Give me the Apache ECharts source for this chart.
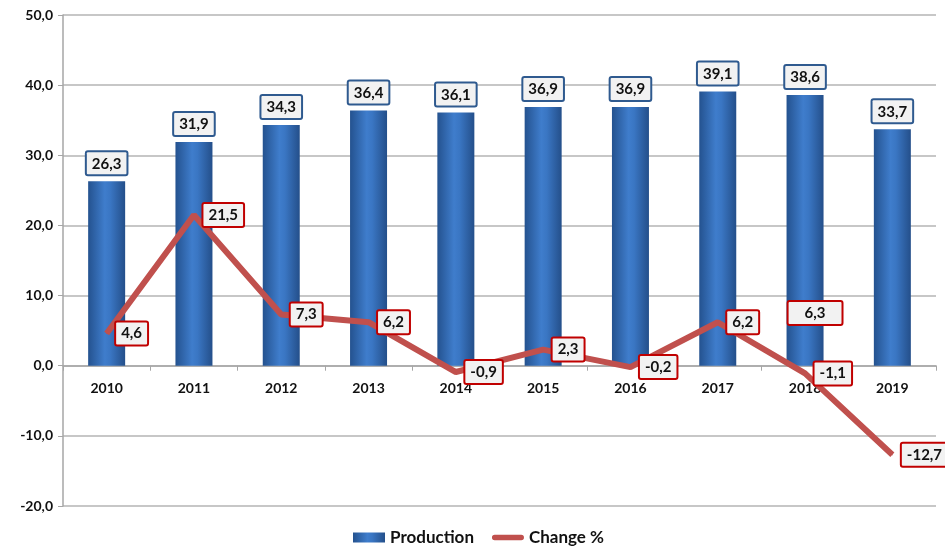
<!DOCTYPE html>
<html>
<head>
<meta charset="utf-8">
<script src="https://cdn.jsdelivr.net/npm/echarts@6/dist/echarts.min.js"></script>
<style>
  html, body { margin: 0; padding: 0; background: #fff; }
  #chart { width: 945px; height: 554px; }
</style>
</head>
<body>
<div id="chart"></div>
<script>
const years = ['2010', '2011', '2012', '2013', '2014', '2015', '2016', '2017', '2018', '2019']
const production = [26.3, 31.9, 34.3, 36.4, 36.1, 36.9, 36.9, 39.1, 38.6, 33.7]
const changePct = [4.6, 21.5, 7.3, 6.2, -0.9, 2.3, -0.2, 6.2, -1.1, -12.7]
// stray label floating above the 2018 point in the original
const strayLabel = { year: '2018', value: 7.5, text: '6,3' }

const fmt = (v) => v.toFixed(1).replace('.', ',')
const font = 'Lato, "Open Sans", sans-serif'

const boxLabel = (border) => ({
  fontSize: 15,
  fontWeight: 'bold',
  color: '#111',
  backgroundColor: '#f2f2f2',
  borderColor: border,
  borderWidth: 2,
  borderRadius: 1,
  padding: [4, 5, 3, 5],
  fontFamily: font
})

const chart = echarts.init(document.getElementById('chart'))

chart.setOption({
  animation: false,
  textStyle: { fontFamily: font },
  grid: { left: 63, right: 9, top: 15, bottom: 48 },
  legend: {
    bottom: 3,
    left: 348,
    itemGap: 18,
    itemWidth: 32,
    itemHeight: 10,
    textStyle: { fontSize: 17, fontWeight: 'bold', color: '#111', fontFamily: font },
    data: [
      { name: 'Production', icon: 'rect' },
      { name: 'Change %', icon: 'path://M3,0 L37,0 A3.5,3.5 0 0 1 37,7 L3,7 A3.5,3.5 0 0 1 3,0 Z' }
    ]
  },
  xAxis: [
    {
      type: 'category',
      data: years,
      axisLine: { onZero: true, lineStyle: { color: '#a6a6a6', width: 1.5 } },
      axisTick: { show: true, length: 5, lineStyle: { color: '#a6a6a6' } },
      axisLabel: { show: false }
    },
    {
      type: 'category',
      data: years,
      position: 'bottom',
      offset: -140,
      axisLine: { show: false },
      axisTick: { show: false },
      axisLabel: { fontSize: 14, fontWeight: 'bold', color: '#111', margin: 15, fontFamily: font },
      splitLine: { show: false }
    }
  ],
  yAxis: {
    type: 'value',
    min: -20,
    max: 50,
    interval: 10,
    axisLine: { show: true, lineStyle: { color: '#a6a6a6', width: 1.5 } },
    axisTick: { show: true, length: 5, lineStyle: { color: '#a6a6a6' } },
    axisLabel: { fontSize: 14, fontWeight: 'bold', color: '#111', margin: 10, formatter: fmt, fontFamily: font },
    splitLine: { lineStyle: { color: '#b4b4b4', width: 1.5 } }
  },
  series: [
    {
      name: 'Production',
      type: 'bar',
      data: production,
      barWidth: 37,
      itemStyle: {
        color: new echarts.graphic.LinearGradient(0, 0, 1, 0, [
          { offset: 0, color: '#24528f' },
          { offset: 0.45, color: '#3f7dcc' },
          { offset: 0.6, color: '#3a76c3' },
          { offset: 1, color: '#244f8a' }
        ])
      },
      label: Object.assign({
        show: true,
        position: 'top',
        distance: 7,
        formatter: (p) => fmt(p.value)
      }, boxLabel('#2f5a8f'))
    },
    {
      name: 'Change %',
      type: 'line',
      data: changePct,
      symbol: 'circle',
      symbolSize: 1,
      showSymbol: true,
      lineStyle: { color: '#c0504d', width: 6 },
      itemStyle: { color: '#c0504d' },
      z: 3,
      label: Object.assign({
        show: true,
        position: 'right',
        distance: 9,
        formatter: (p) => fmt(p.value)
      }, boxLabel('#c00000')),
      markPoint: {
        symbol: 'circle',
        symbolSize: 0,
        data: [{
          coord: [strayLabel.year, strayLabel.value],
          label: Object.assign({
            show: true,
            position: 'inside',
            offset: [10, 0],
            formatter: strayLabel.text
          }, boxLabel('#c00000'), { padding: [4, 16, 3, 16] })
        }]
      }
    }
  ]
})
</script>
</body>
</html>
